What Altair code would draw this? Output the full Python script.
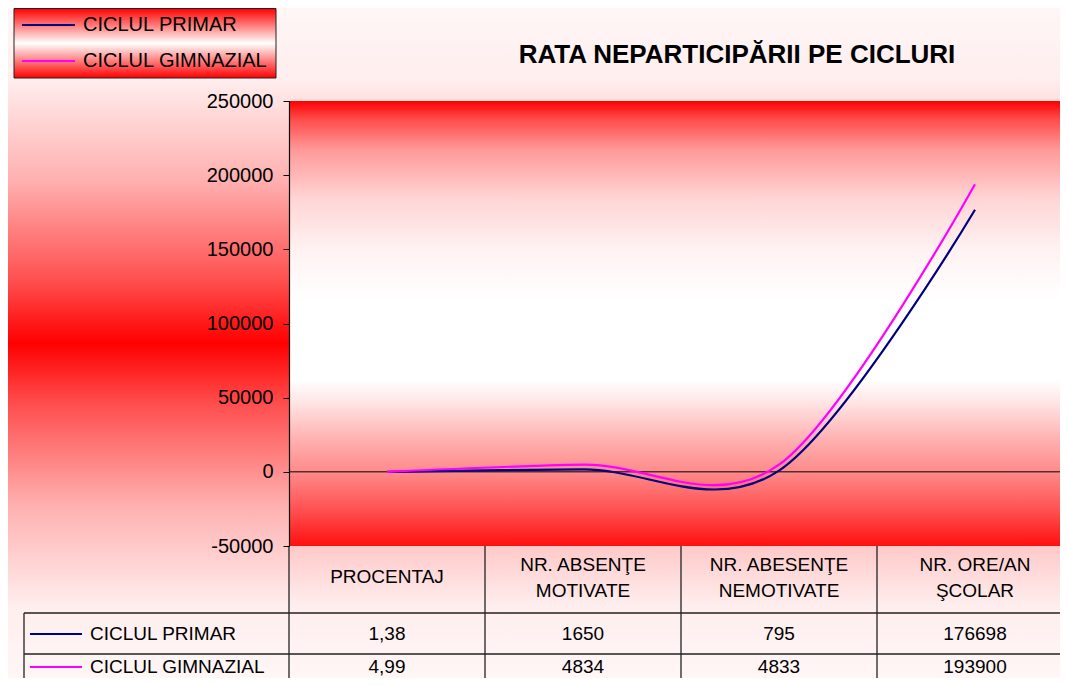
import altair as alt
import pandas as pd

# ---------------- data ----------------
categories = ["PROCENTAJ", "NR. ABSENŢE MOTIVATE", "NR. ABESENŢE NEMOTIVATE", "NR. ORE/AN ŞCOLAR"]
header_lines = ["PROCENTAJ", "NR. ABSENŢE|MOTIVATE", "NR. ABESENŢE|NEMOTIVATE", "NR. ORE/AN|ŞCOLAR"]
series = ["CICLUL PRIMAR", "CICLUL GIMNAZIAL"]
primar = [1.38, 1650, 795, 176698]
gimnazial = [4.99, 4834, 4833, 193900]
primar_text = ["1,38", "1650", "795", "176698"]
gimnazial_text = ["4,99", "4834", "4833", "193900"]
colors = ["#000080", "#FF00FF"]
y_ticks = [-50000, 0, 50000, 100000, 150000, 200000, 250000]
title = "RATA NEPARTICIPĂRII PE CICLURI"

FONT = "Liberation Sans"
W, H = 771, 445          # plot area (svg clipped at right edge)
XR = 784                 # full category range (extends beyond page like reference)

rows = []
for s, vals, txts in [(series[0], primar, primar_text), (series[1], gimnazial, gimnazial_text)]:
    for c, v, t in zip(categories, vals, txts):
        rows.append({"serie": s, "categorie": c, "valoare": v, "text": t})
df = pd.DataFrame(rows)
hdr = pd.DataFrame({"categorie": categories, "header": header_lines})
one = pd.DataFrame({"a": [0]})

xscale = alt.Scale(type="point", domain=categories, range=[0, XR], padding=0.5)
yscale = alt.Scale(domain=[-50000, 250000], nice=False, zero=False)
cscale = alt.Scale(domain=series, range=colors)


def grad(stops):
    return alt.LinearGradient(
        gradient="linear", x1=0, x2=0, y1=0, y2=1,
        stops=[alt.GradientStop(offset=o, color=c) for o, c in stops],
    )


outer_bg = alt.Chart(one).mark_rect(
    fill=grad([(0, "#FFF6F6"), (0.107, "#FFEEEE"), (0.257, "#FFB0B0"), (0.406, "#FF5050"),
               (0.5, "#FF0000"), (0.594, "#FF5050"), (0.743, "#FFB0B0"), (0.893, "#FFEEEE"),
               (1, "#FFF6F6")])
).encode(x=alt.value(-281), x2=alt.value(W), y=alt.value(-93), y2=alt.value(H + 132))

plot_bg = alt.Chart(one).mark_rect(
    fill=grad([(0, "#FF0000"), (0.04, "#FF4A4A"), (0.11, "#FF9999"), (0.22, "#FFD5D5"),
               (0.335, "#FFF2F2"), (0.447, "#FFFFFF"), (0.627, "#FFFFFF"), (0.672, "#FFE8E8"),
               (0.762, "#FFB0B0"), (0.834, "#FF8A8A"), (0.92, "#FF5050"), (1, "#FF1010")])
).encode(x=alt.value(0), x2=alt.value(XR), y=alt.value(0), y2=alt.value(H))

zero_line = alt.Chart(one).mark_rule(color="black", strokeWidth=1).encode(
    y=alt.datum(0, scale=yscale), x=alt.value(0), x2=alt.value(XR)
)

lines = alt.Chart(df).mark_line(interpolate="cardinal", strokeWidth=2.2, clip=False).encode(
    x=alt.X("categorie:N", scale=xscale, axis=None),
    y=alt.Y("valoare:Q", scale=yscale,
            axis=alt.Axis(values=y_ticks, labelExpr="'' + datum.value", title=None,
                          labelFont=FONT, labelFontSize=20, labelColor="black",
                          tickColor="black", tickSize=6, domainColor="black",
                          labelPadding=10, grid=False, domainWidth=1.2, zindex=2)),
    color=alt.Color("serie:N", scale=cscale, legend=None),
    detail="serie:N",
)

# title
title_mark = alt.Chart(one).mark_text(
    text=title, font=FONT, fontSize=26, fontWeight="bold", color="black", align="center", baseline="middle"
).encode(x=alt.value(448), y=alt.value(-46))

# legend box
leg_box = alt.Chart(one).mark_rect(
    fill=grad([(0, "#FF0000"), (0.5, "#FFFFFF"), (1, "#FF0000")]), stroke="#222222", strokeWidth=1
).encode(x=alt.value(-275), x2=alt.value(-13), y=alt.value(-92.5), y2=alt.value(-23))

layers = [outer_bg, plot_bg, leg_box]
leg_y = [-76, -40]
for s, col, yy in zip(series, colors, leg_y):
    layers.append(alt.Chart(one).mark_rule(color=col, strokeWidth=2).encode(
        x=alt.value(-267), x2=alt.value(-214), y=alt.value(yy)))
    layers.append(alt.Chart(one).mark_text(
        text=s, font=FONT, fontSize=20, color="black", align="left", baseline="middle"
    ).encode(x=alt.value(-206), y=alt.value(yy)))

# data table grid
grid_color = "#222222"
for xv in [0, 196, 392, 588]:
    layers.append(alt.Chart(one).mark_rule(color=grid_color, strokeWidth=1.3).encode(
        x=alt.value(xv), y=alt.value(H), y2=alt.value(H + 140)))
for yv in [512, 553]:
    layers.append(alt.Chart(one).mark_rule(color=grid_color, strokeWidth=1.3).encode(
        x=alt.value(-265), x2=alt.value(XR), y=alt.value(yv)))
layers.append(alt.Chart(one).mark_rule(color=grid_color, strokeWidth=1.3).encode(
    x=alt.value(-265), y=alt.value(512), y2=alt.value(H + 140)))

# table header (single-line and two-line cells)
hdr_base = alt.Chart(hdr).transform_calculate(lines="split(datum.header, '|')")
header_one = hdr_base.transform_filter("length(datum.lines) == 1").mark_text(
    font=FONT, fontSize=19, color="black", align="center", baseline="middle"
).encode(x=alt.X("categorie:N", scale=xscale, axis=None), y=alt.value(476), text="header:N")
header_two = hdr_base.transform_filter("length(datum.lines) == 2").mark_text(
    font=FONT, fontSize=19, color="black", align="center", baseline="middle", lineHeight=26
).encode(x=alt.X("categorie:N", scale=xscale, axis=None), y=alt.value(464), text="lines:N")
layers += [header_one, header_two]

row_y = [533, 566]
for s, col, yy in zip(series, colors, row_y):
    layers.append(alt.Chart(one).mark_rule(color=col, strokeWidth=2).encode(
        x=alt.value(-259), x2=alt.value(-207), y=alt.value(yy)))
    layers.append(alt.Chart(one).mark_text(
        text=s, font=FONT, fontSize=19, color="black", align="left", baseline="middle"
    ).encode(x=alt.value(-199), y=alt.value(yy)))
    layers.append(alt.Chart(df).transform_filter(alt.datum.serie == s).mark_text(
        font=FONT, fontSize=19, color="black", align="center", baseline="middle"
    ).encode(x=alt.X("categorie:N", scale=xscale, axis=None), y=alt.value(yy), text="text:N"))

layers += [zero_line, lines, title_mark]

chart = alt.layer(*layers).properties(
    width=W, height=H,
    autosize=alt.AutoSizeParams(type="none"),
    padding={"left": 281, "top": 93, "right": 0, "bottom": 132},
).configure_view(stroke=None)

chart.save("out.html", embed_options={"renderer": "svg", "actions": False})
